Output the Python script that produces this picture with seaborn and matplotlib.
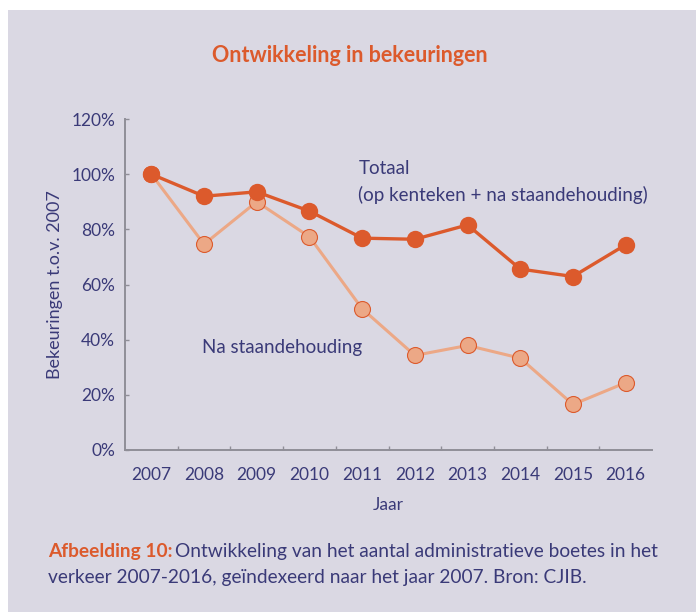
import numpy as np
import pandas as pd
import matplotlib
matplotlib.use("Agg")
import matplotlib.pyplot as plt
import seaborn as sns
from matplotlib.patches import Rectangle
from matplotlib.ticker import FixedLocator

# Data (% t.o.v. 2007)
jaren = ["2007", "2008", "2009", "2010", "2011", "2012", "2013", "2014", "2015", "2016"]
totaal = [100, 92.0, 93.6, 86.6, 76.8, 76.4, 81.6, 65.6, 62.9, 74.4]
na_staandehouding = [100, 74.6, 90.0, 77.3, 51.2, 34.3, 37.9, 33.3, 16.5, 24.4]
y_ticks = [0, 20, 40, 60, 80, 100, 120]

BG = "#dad8e3"
ORANJE = "#dc5a2c"
LICHT = "#eca886"
NAVY = "#3a3a78"
GRIJS = "#8f8e97"

sns.set_theme(style="white")
plt.rcParams["font.family"] = ["Lato", "DejaVu Sans"]

df = pd.DataFrame({
    "pos": np.arange(len(jaren)),
    "Totaal": totaal,
    "Na staandehouding": na_staandehouding,
})

W, H = 696, 612
fig = plt.figure(figsize=(W / 100, H / 100), dpi=100, facecolor="white")
fig.patches.append(Rectangle((8 / W, 0), 1 - 8 / W, 1 - 10 / H,
                             transform=fig.transFigure, facecolor=BG,
                             edgecolor="none", zorder=-10))

ax = fig.add_axes([125 / W, 1 - 450 / H, (652 - 125) / W, (450 - 119) / H])
ax.set_facecolor("none")

sns.lineplot(data=df, x="pos", y="Na staandehouding", ax=ax, color=LICHT,
             linewidth=2.2, marker="o", markersize=11.5,
             markerfacecolor=LICHT, markeredgecolor=ORANJE, markeredgewidth=0.8)
sns.lineplot(data=df, x="pos", y="Totaal", ax=ax, color=ORANJE,
             linewidth=2.4, marker="o", markersize=12.5,
             markerfacecolor=ORANJE, markeredgecolor=ORANJE, markeredgewidth=0)

ax.set_xlim(-0.5, len(jaren) - 0.5)
ax.set_ylim(0, 120)

ax.set_xticks(df["pos"])
ax.set_xticklabels(jaren)
ax.xaxis.set_minor_locator(FixedLocator(np.arange(0.5, len(jaren) - 0.5, 1)))
ax.set_yticks(y_ticks)
ax.set_yticklabels([f"{v}%" for v in y_ticks])

ax.tick_params(axis="x", which="major", length=0, pad=12, labelsize=12.5, labelcolor=NAVY)
ax.tick_params(axis="x", which="minor", direction="in", length=3, width=1, color=GRIJS, bottom=True)
ax.tick_params(axis="y", which="major", direction="in", length=3, width=1, color=GRIJS,
               pad=7, labelsize=12.5, labelcolor=NAVY, left=True)

for s in ["top", "right"]:
    ax.spines[s].set_visible(False)
for s in ["left", "bottom"]:
    ax.spines[s].set_color(GRIJS)
    ax.spines[s].set_linewidth(1.4)

ax.set_xlabel("Jaar", color=NAVY, fontsize=12.5, labelpad=10)
ax.set_ylabel("Bekeuringen t.o.v. 2007", color=NAVY, fontsize=13, labelpad=6)

ax.text(3.93, 105, "Totaal\n(op kenteken + na staandehouding)", color=NAVY,
        fontsize=13.5, va="top", ha="left", linespacing=1.6)
ax.text(0.97, 37.3, "Na staandehouding", color=NAVY, fontsize=13.5,
        va="center", ha="left")

fig.text(350 / W, 1 - 55 / H, "Ontwikkeling in bekeuringen", color=ORANJE,
         fontsize=15.5, fontweight="bold", ha="center", va="center")

# Caption
cap1 = fig.text(48 / W, 1 - 551 / H, "Afbeelding 10:", color=ORANJE, fontsize=13.8,
                fontweight="bold", ha="left", va="center")
fig.canvas.draw()
bb = cap1.get_window_extent(fig.canvas.get_renderer())
fig.text(bb.x1 / W + 2 / W, 1 - 551 / H,
         "Ontwikkeling van het aantal administratieve boetes in het",
         color=NAVY, fontsize=13.8, ha="left", va="center")
fig.text(48 / W, 1 - 577 / H,
         "verkeer 2007-2016, geïndexeerd naar het jaar 2007. Bron: CJIB.",
         color=NAVY, fontsize=13.8, ha="left", va="center")

fig.savefig("out.png", dpi=100, facecolor="white")
